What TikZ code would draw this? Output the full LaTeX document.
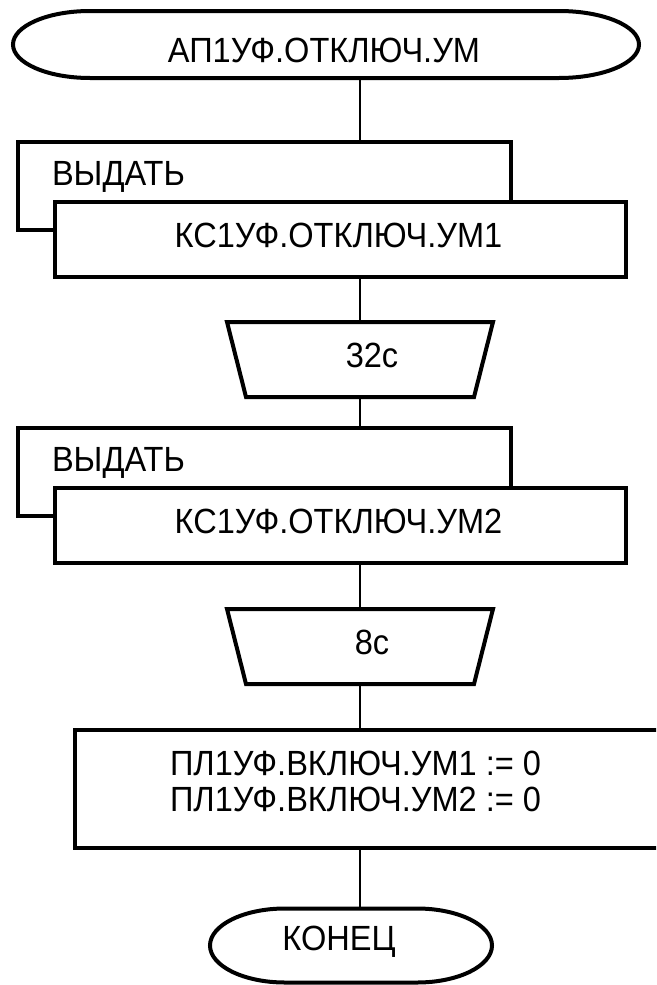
\documentclass[tikz,border=0pt]{standalone}
\usepackage{fontspec}
\setmainfont{Liberation Sans}[FakeStretch=0.93]
\begin{document}
\begin{tikzpicture}[x=1pt,y=-1pt]
\tikzset{
  outline/.style={line width=4pt, line join=miter},
  conn/.style={line width=1.6pt},
  lbl/.style={font=\fontsize{35}{38}\selectfont, inner sep=0pt, outer sep=0pt},
  frame/.style 2 args={inner sep=0pt, outer sep=0pt, minimum width=#1, minimum height=#2},
}
\useasboundingbox (0,0) rectangle (656,985);
\clip (0,0) rectangle (656,985);
\fill[white] (0,0) rectangle (656,985);
\coordinate (axis) at (360,0);

% frames of the shapes
\node[frame={626pt}{67pt}] (startF) at (326,44.5) {};
\node[frame={493pt}{88pt}] (back1) at (264.5,186) {};
\node[frame={571pt}{75pt}] (front1) at (340.5,239.5) {};
\node[frame={266pt}{75pt}] (wait1) at (360,359.5) {};
\node[frame={493pt}{88pt}] (back2) at (264.5,472) {};
\node[frame={571pt}{75pt}] (front2) at (340.5,525.5) {};
\node[frame={266pt}{75pt}] (wait2) at (360,646.5) {};
\node[frame={625pt}{118pt}] (act) at (387.5,789) {};
\node[frame={282pt}{74pt}] (endF) at (351,945.5) {};

% connectors
\draw[conn] (startF.south -| axis) -- (back1.north -| axis);
\draw[conn] (front1.south -| axis) -- (wait1.north);
\draw[conn] (wait1.south) -- (back2.north -| axis);
\draw[conn] (front2.south -| axis) -- (wait2.north);
\draw[conn] (wait2.south) -- (act.north -| axis);
\draw[conn] (act.south -| axis) -- (endF.north -| axis);

% start terminal
\draw[outline] (90,11) -- (559,11) .. controls (603.2,11) and (639,26) .. (639,44.5)
  .. controls (639,63) and (603.2,78) .. (559,78) -- (90,78)
  .. controls (47.5,78) and (13,63) .. (13,44.5)
  .. controls (13,26) and (47.5,11) .. (90,11) -- cycle;

% output blocks
\draw[outline] (front1.west |- back1.south) -- (back1.south west) -- (back1.north west)
  -- (back1.north east) -- (back1.east |- front1.north);
\draw[outline] (front1.north west) rectangle (front1.south east);
\draw[outline] (front2.west |- back2.south) -- (back2.south west) -- (back2.north west)
  -- (back2.north east) -- (back2.east |- front2.north);
\draw[outline] (front2.north west) rectangle (front2.south east);

% delays
\draw[outline] (wait1.north west) -- (wait1.north east) -- ([xshift=-19pt]wait1.south east)
  -- ([xshift=19pt]wait1.south west) -- cycle;
\draw[outline] (wait2.north west) -- (wait2.north east) -- ([xshift=-19pt]wait2.south east)
  -- ([xshift=19pt]wait2.south west) -- cycle;

% action
\draw[outline] (act.north west) rectangle (act.south east);

% end terminal
\draw[outline] (285,908.5) -- (417,908.5) .. controls (458.4,908.5) and (492,925.1) .. (492,945.5)
  .. controls (492,965.9) and (458.4,982.5) .. (417,982.5) -- (285,982.5)
  .. controls (243.6,982.5) and (210,965.9) .. (210,945.5)
  .. controls (210,925.1) and (243.6,908.5) .. (285,908.5) -- cycle;

% texts
\node[lbl, anchor=base] (t0) at (324,62) {АП1УФ.ОТКЛЮЧ.УМ};
\node[lbl, anchor=base west] (l1) at (52,185) {ВЫДАТЬ};
\node[lbl, anchor=base] (t1) at (338.5,247) {КС1УФ.ОТКЛЮЧ.УМ1};
\node[lbl, anchor=base] (d1) at (372,367) {32с};
\node[lbl, anchor=base west] (l2) at (52,471) {ВЫДАТЬ};
\node[lbl, anchor=base] (t2) at (338.5,533) {КС1УФ.ОТКЛЮЧ.УМ2};
\node[lbl, anchor=base] (d2) at (372,654) {8с};
\node[lbl, anchor=base] (a1) at (355.5,775) {ПЛ1УФ.ВКЛЮЧ.УМ1 := 0};
\node[lbl, anchor=base] (a2) at (355.5,811) {ПЛ1УФ.ВКЛЮЧ.УМ2 := 0};
\node[lbl, anchor=base] (e) at (339,950) {КОНЕЦ};
\end{tikzpicture}
\end{document}
